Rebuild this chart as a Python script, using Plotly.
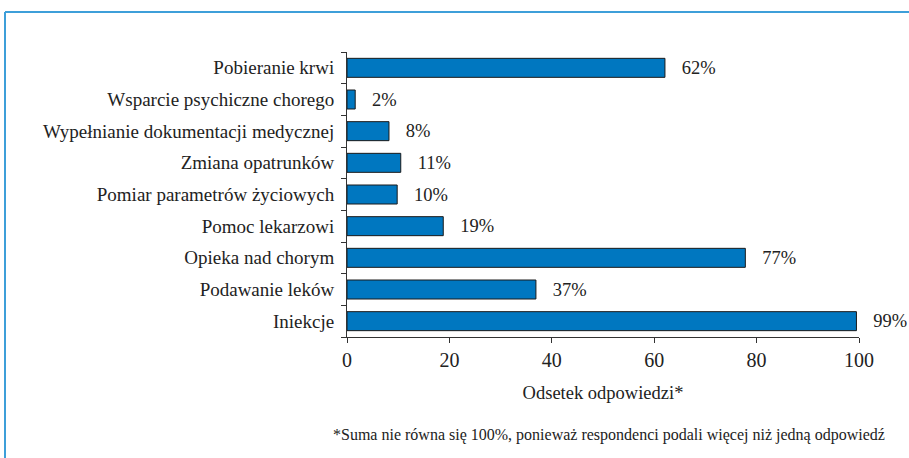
import plotly.graph_objects as go

categories = ["Iniekcje", "Podawanie leków", "Opieka nad chorym", "Pomoc lekarzowi",
              "Pomiar parametrów życiowych", "Zmiana opatrunków",
              "Wypełnianie dokumentacji medycznej", "Wsparcie psychiczne chorego",
              "Pobieranie krwi"]
values = [99.5, 36.9, 77.8, 18.8, 9.8, 10.5, 8.2, 1.6, 62.1]
labels = ["99%", "37%", "77%", "19%", "10%", "11%", "8%", "2%", "62%"]
x_ticks = [0, 20, 40, 60, 80, 100]

W, H = 909, 458
L, R, T, B = 347, 50, 52, 121
pw, ph = W - L - R, H - T - B

def px(x):
    return (x - L) / pw

def py(y):
    return (H - B - y) / ph

serif = "Times New Roman"
pad = "\u00a0\u00a0\u00a0"

fig = go.Figure(go.Bar(
    y=categories, x=values, orientation="h",
    marker=dict(color="#0077c0", line=dict(color="#1a1a1a", width=1)),
    text=[pad + t for t in labels], textposition="outside", cliponaxis=False,
    constraintext="none",
    textfont=dict(family=serif, size=18.5, color="#222222"),
))

fig.update_layout(
    width=W, height=H,
    margin=dict(l=L, r=R, t=T, b=B, autoexpand=False),
    plot_bgcolor="white", paper_bgcolor="white",
    bargap=0.4, showlegend=False,
    font=dict(family=serif, size=19, color="#222222"),
    xaxis=dict(range=[0, 100], tickvals=x_ticks, showgrid=False, zeroline=False,
               showline=True, linecolor="#333333", linewidth=1,
               ticks="outside", ticklen=5, tickcolor="#333333", automargin=False,
               tickfont=dict(family=serif, size=20),
               title=dict(text="Odsetek odpowiedzi*", standoff=16,
                          font=dict(family=serif, size=18.5))),
    yaxis=dict(showgrid=False, zeroline=False, showline=True, automargin=False,
               linecolor="#333333", linewidth=1, ticks="outside",
               tickson="boundaries", ticklen=5, tickcolor="#333333",
               tickfont=dict(family=serif, size=19),
               ticklabelstandoff=8),
)

fig.add_annotation(
    text="*Suma nie równa się 100%, ponieważ respondenci podali więcej niż jedną odpowiedź",
    xref="paper", yref="paper", x=px(609), y=py(435), showarrow=False,
    xanchor="center", yanchor="middle",
    font=dict(family=serif, size=16, color="#222222"),
)

frame = "#3d9fd9"
fig.add_shape(type="line", xref="paper", yref="paper",
              x0=px(5), x1=px(W), y0=py(12), y1=py(12),
              line=dict(color=frame, width=2))
fig.add_shape(type="line", xref="paper", yref="paper",
              x0=px(5), x1=px(5), y0=py(12), y1=py(H),
              line=dict(color=frame, width=2))

fig.write_html("out.html", config={"displayModeBar": False},
               post_script="document.body.style.margin='0';")
